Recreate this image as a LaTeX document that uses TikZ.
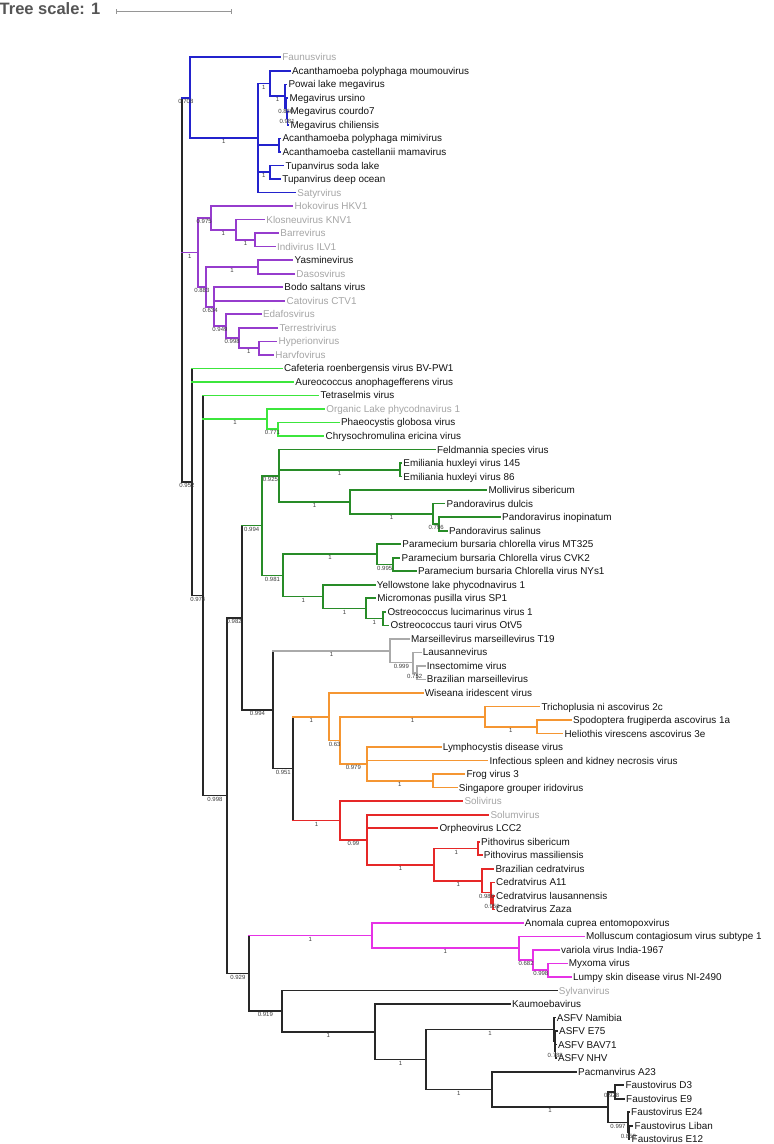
\documentclass[tikz,border=0pt]{standalone}
\usepackage{fontspec}
\setmainfont{Liberation Sans}
\usetikzlibrary{calc}
\definecolor{cblue}{RGB}{35,35,205}
\definecolor{cpurp}{RGB}{150,60,205}
\definecolor{clgrn}{RGB}{60,230,60}
\definecolor{cdgrn}{RGB}{40,140,40}
\definecolor{cgrey}{RGB}{170,170,170}
\definecolor{corng}{RGB}{245,150,50}
\definecolor{cred}{RGB}{230,40,40}
\definecolor{cmag}{RGB}{230,50,230}
\definecolor{cblk}{RGB}{40,40,40}
\definecolor{ctxt}{RGB}{20,20,20}
\definecolor{cgtxt}{RGB}{165,165,165}
\definecolor{cbs}{RGB}{60,60,60}
\definecolor{cscale}{RGB}{85,85,85}
\definecolor{cbar}{RGB}{150,150,150}
\newcommand\tHB[3]{\draw[br,#1] (#2 |- #3) -- (#3);}
\newcommand\tND[5]{\draw[br,#1] (#2 |- #3) -- (#2 |- #4);\foreach \c in {#5} {\draw[br,#1] (#2 |- \c) -- (\c);}}
\newcommand\tLF[4]{\coordinate (t#1) at (#2,{57.3+13.525*(#1-1)});\node[leaf,#3] (n#1) at (t#1) {#4};}
\newcommand\tBS[3]{\node[bsl] (b#1) at ($(#2 |- #1)!0.5!(#1)$) {#3};}
\begin{document}
\begin{tikzpicture}[x=1pt,y=-1pt,
  br/.style={line width=1.65pt,line cap=rect},
  leaf/.style={anchor=base west,inner sep=0pt,xshift=2pt,yshift=-3.5pt,font=\fontsize{9.9}{11}\selectfont,text=ctxt},
  gl/.style={text=cgtxt},
  bsl/.style={inner sep=0pt,yshift=-3.6pt,font=\fontsize{6}{7}\selectfont,text=cbs}]
\useasboundingbox (0,0) rectangle (774,1144);
% scale
\node[anchor=base west,inner sep=0pt,font=\bfseries\fontsize{16.5}{18}\selectfont,text=cscale] (ts) at (-0.5,14) {Tree scale: 1};
\coordinate (sb1) at (116,11.7);
\coordinate (sb2) at (231.7,11.7);
\draw[cbar,line width=1pt] (sb1) -- (sb2);
\draw[cbar,line width=1pt] ($(sb1)+(0,-2.7)$) -- ($(sb1)+(0,2.7)$);
\draw[cbar,line width=1pt] ($(sb2)+(0,-2.7)$) -- ($(sb2)+(0,2.7)$);
% leaves
\tLF{1}{280.2}{gl}{Faunusvirus}
\tLF{2}{289.8}{}{Acanthamoeba polyphaga moumouvirus}
\tLF{3}{286.3}{}{Powai lake megavirus}
\tLF{4}{287.5}{}{Megavirus ursino}
\tLF{5}{288.3}{}{Megavirus courdo7}
\tLF{6}{288.3}{}{Megavirus chiliensis}
\tLF{7}{280.3}{}{Acanthamoeba polyphaga mimivirus}
\tLF{8}{280.3}{}{Acanthamoeba castellanii mamavirus}
\tLF{9}{283.5}{}{Tupanvirus soda lake}
\tLF{10}{280.2}{}{Tupanvirus deep ocean}
\tLF{11}{295.2}{gl}{Satyrvirus}
\tLF{12}{292.5}{gl}{Hokovirus HKV1}
\tLF{13}{264.2}{gl}{Klosneuvirus KNV1}
\tLF{14}{278.2}{gl}{Barrevirus}
\tLF{15}{274.8}{gl}{Indivirus ILV1}
\tLF{16}{292.5}{}{Yasminevirus}
\tLF{17}{294.2}{gl}{Dasosvirus}
\tLF{18}{282.2}{}{Bodo saltans virus}
\tLF{19}{284.5}{gl}{Catovirus CTV1}
\tLF{20}{260.8}{gl}{Edafosvirus}
\tLF{21}{277.5}{gl}{Terrestrivirus}
\tLF{22}{276.5}{gl}{Hyperionvirus}
\tLF{23}{273.2}{gl}{Harvfovirus}
\tLF{24}{281.8}{}{Cafeteria roenbergensis virus BV-PW1}
\tLF{25}{293.2}{}{Aureococcus anophagefferens virus}
\tLF{26}{318.5}{}{Tetraselmis virus}
\tLF{27}{324.2}{gl}{Organic Lake phycodnavirus 1}
\tLF{28}{338.8}{}{Phaeocystis globosa virus}
\tLF{29}{323.5}{}{Chrysochromulina ericina virus}
\tLF{30}{434.8}{}{Feldmannia species virus}
\tLF{31}{401.2}{}{Emiliania huxleyi virus 145}
\tLF{32}{401.2}{}{Emiliania huxleyi virus 86}
\tLF{33}{486.3}{}{Mollivirus sibericum}
\tLF{34}{444.5}{}{Pandoravirus dulcis}
\tLF{35}{500}{}{Pandoravirus inopinatum}
\tLF{36}{446.8}{}{Pandoravirus salinus}
\tLF{37}{400.2}{}{Paramecium bursaria chlorella virus MT325}
\tLF{38}{399.5}{}{Paramecium bursaria Chlorella virus CVK2}
\tLF{39}{415.8}{}{Paramecium bursaria Chlorella virus NYs1}
\tLF{40}{374.7}{}{Yellowstone lake phycodnavirus 1}
\tLF{41}{375.2}{}{Micromonas pusilla virus SP1}
\tLF{42}{385.3}{}{Ostreococcus lucimarinus virus 1}
\tLF{43}{388.5}{}{Ostreococcus tauri virus OtV5}
\tLF{44}{409}{}{Marseillevirus marseillevirus T19}
\tLF{45}{420.7}{}{Lausannevirus}
\tLF{46}{424.7}{}{Insectomime virus}
\tLF{47}{424.7}{}{Brazilian marseillevirus}
\tLF{48}{422.7}{}{Wiseana iridescent virus}
\tLF{49}{539.3}{}{Trichoplusia ni ascovirus 2c}
\tLF{50}{571}{}{Spodoptera frugiperda ascovirus 1a}
\tLF{51}{562.3}{}{Heliothis virescens ascovirus 3e}
\tLF{52}{440.7}{}{Lymphocystis disease virus}
\tLF{53}{487.3}{}{Infectious spleen and kidney necrosis virus}
\tLF{54}{464.3}{}{Frog virus 3}
\tLF{55}{456.7}{}{Singapore grouper iridovirus}
\tLF{56}{462.3}{gl}{Solivirus}
\tLF{57}{488.3}{gl}{Solumvirus}
\tLF{58}{437.3}{}{Orpheovirus LCC2}
\tLF{59}{479}{}{Pithovirus sibericum}
\tLF{60}{481.7}{}{Pithovirus massiliensis}
\tLF{61}{493.3}{}{Brazilian cedratvirus}
\tLF{62}{494}{}{Cedratvirus A11}
\tLF{63}{494}{}{Cedratvirus lausannensis}
\tLF{64}{494}{}{Cedratvirus Zaza}
\tLF{65}{522.7}{}{Anomala cuprea entomopoxvirus}
\tLF{66}{584}{}{Molluscum contagiosum virus subtype 1}
\tLF{67}{559}{}{variola virus India-1967}
\tLF{68}{566.7}{}{Myxoma virus}
\tLF{69}{571}{}{Lumpy skin disease virus NI-2490}
\tLF{70}{556.7}{gl}{Sylvanvirus}
\tLF{71}{510}{}{Kaumoebavirus}
\tLF{72}{554.7}{}{ASFV Namibia}
\tLF{73}{557}{}{ASFV E75}
\tLF{74}{555.8}{}{ASFV BAV71}
\tLF{75}{555.8}{}{ASFV NHV}
\tLF{76}{576}{}{Pacmanvirus A23}
\tLF{77}{623.3}{}{Faustovirus D3}
\tLF{78}{624}{}{Faustovirus E9}
\tLF{79}{629}{}{Faustovirus E24}
\tLF{80}{632.5}{}{Faustovirus Liban}
\tLF{81}{629.5}{}{Faustovirus E12}
% internal nodes
\coordinate (R0) at (181.7,289.9);
\coordinate (Bl) at (190,97.7);
\coordinate (M) at (257.7,138.0);
\coordinate (M1) at (270,83.5);
\coordinate (M2) at (285,96.2);
\coordinate (M3) at (286.6,108.0);
\coordinate (M4) at (287.6,118.2);
\coordinate (Mm) at (279.3,145.2);
\coordinate (Mt) at (270,172.3);
\coordinate (P) at (197.7,252.4);
\coordinate (P1) at (210.7,218.0);
\coordinate (P2) at (236,229.8);
\coordinate (P3) at (255.3,239.9);
\coordinate (P4) at (206,286.8);
\coordinate (P5) at (258.3,267.0);
\coordinate (P6) at (214.3,306.7);
\coordinate (P7) at (225.7,326.1);
\coordinate (P8) at (238.7,338.0);
\coordinate (P9) at (259,348.1);
\coordinate (A) at (192.3,482.0);
\coordinate (C) at (203.3,595.5);
\coordinate (C2) at (266.7,419.1);
\coordinate (C3) at (278.3,429.3);
\coordinate (D) at (226.7,795.6);
\coordinate (E) at (241.7,617.7);
\coordinate (G) at (261.7,525.6);
\coordinate (G1) at (279.3,475.7);
\coordinate (G3) at (400,469.9);
\coordinate (G4) at (350,502.0);
\coordinate (G5) at (433.3,513.8);
\coordinate (G6) at (439,524.0);
\coordinate (G2) at (283.3,575.5);
\coordinate (G7) at (376.7,554.3);
\coordinate (G9) at (392.7,564.5);
\coordinate (G8) at (323.3,596.6);
\coordinate (G10) at (366,608.5);
\coordinate (G11) at (382.7,618.6);
\coordinate (H) at (273.3,709.7);
\coordinate (Mr) at (390,650.8);
\coordinate (Mr1) at (412.7,662.6);
\coordinate (Mr2) at (416.7,672.7);
\coordinate (I) at (293.3,768.6);
\coordinate (O) at (329.3,716.7);
\coordinate (O1) at (340,740.4);
\coordinate (O2) at (485,716.7);
\coordinate (O4) at (536.7,726.8);
\coordinate (O3) at (366.7,764.0);
\coordinate (O5) at (432.7,780.9);
\coordinate (Rd) at (340,820.5);
\coordinate (R1) at (366.7,839.7);
\coordinate (R2) at (434.3,864.7);
\coordinate (R3) at (478.3,848.6);
\coordinate (R4) at (482.3,880.7);
\coordinate (R5) at (491,892.5);
\coordinate (R6) at (493.3,902.7);
\coordinate (F) at (249,973.4);
\coordinate (X) at (371.7,935.6);
\coordinate (X1) at (519,948.3);
\coordinate (X2) at (533.3,960.2);
\coordinate (X3) at (548.3,970.3);
\coordinate (K) at (281.7,1011.2);
\coordinate (K1) at (375,1031.8);
\coordinate (K2) at (426,1059.5);
\coordinate (K3) at (554,1029.5);
\coordinate (K5) at (555,1041.3);
\coordinate (K6) at (555.5,1051.4);
\coordinate (K4) at (491.7,1089.5);
\coordinate (K7) at (608.3,1107.3);
\coordinate (K8) at (615,1092.0);
\coordinate (K9) at (627.7,1122.5);
\coordinate (K10) at (629,1132.6);
% backbone
\tND{cblk}{R0}{Bl}{A}{A}
\tHB{cblue}{R0}{Bl}
\tHB{cpurp}{R0}{P}
\tND{cblk}{A}{t24}{C}{C}
\tHB{clgrn}{A}{t24}
\tHB{clgrn}{A}{t25}
\tND{cblk}{C}{t26}{D}{D}
\tHB{clgrn}{C}{t26}
\tHB{clgrn}{C}{C2}
\tND{cblk}{D}{E}{F}{E,F}
\tND{cblk}{E}{G}{H}{H}
\tHB{cdgrn}{E}{G}
\tND{cblk}{H}{Mr}{I}{I}
\tHB{cgrey}{H}{Mr}
\tND{cblk}{I}{O}{Rd}{}
\tHB{corng}{I}{O}
\tHB{cred}{I}{Rd}
\tND{cblk}{F}{X}{K}{K}
\tHB{cmag}{F}{X}
% blue
\tND{cblue}{Bl}{t1}{M}{t1,M}
\tND{cblue}{M}{M1}{t11}{M1,Mm,Mt,t11}
\tND{cblue}{M1}{t2}{M2}{t2,M2}
\tND{cblue}{M2}{t3}{M3}{t3,M3}
\tND{cblue}{M3}{t4}{M4}{t4,M4}
\tND{cblue}{M4}{t5}{t6}{t5,t6}
\tND{cblue}{Mm}{t7}{t8}{t7,t8}
\tND{cblue}{Mt}{t9}{t10}{t9,t10}
% purple
\tND{cpurp}{P}{P1}{P4}{P1,P4}
\tND{cpurp}{P1}{t12}{P2}{t12,P2}
\tND{cpurp}{P2}{t13}{P3}{t13,P3}
\tND{cpurp}{P3}{t14}{t15}{t14,t15}
\tND{cpurp}{P4}{P5}{P6}{P5,P6}
\tND{cpurp}{P5}{t16}{t17}{t16,t17}
\tND{cpurp}{P6}{t18}{P7}{t18,t19,P7}
\tND{cpurp}{P7}{t20}{P8}{t20,P8}
\tND{cpurp}{P8}{t21}{P9}{t21,P9}
\tND{cpurp}{P9}{t22}{t23}{t22,t23}
% light green
\tND{clgrn}{C2}{t27}{C3}{t27,C3}
\tND{clgrn}{C3}{t28}{t29}{t28,t29}
% dark green
\tND{cdgrn}{G}{G1}{G2}{G1,G2}
\tND{cdgrn}{G1}{t30}{G4}{t30,G3,G4}
\tND{cdgrn}{G3}{t31}{t32}{t31,t32}
\tND{cdgrn}{G4}{t33}{G5}{t33,G5}
\tND{cdgrn}{G5}{t34}{G6}{t34,G6}
\tND{cdgrn}{G6}{t35}{t36}{t35,t36}
\tND{cdgrn}{G2}{G7}{G8}{G7,G8}
\tND{cdgrn}{G7}{t37}{G9}{t37,G9}
\tND{cdgrn}{G9}{t38}{t39}{t38,t39}
\tND{cdgrn}{G8}{t40}{G10}{t40,G10}
\tND{cdgrn}{G10}{t41}{G11}{t41,G11}
\tND{cdgrn}{G11}{t42}{t43}{t42,t43}
% grey
\tND{cgrey}{Mr}{t44}{Mr1}{t44,Mr1}
\tND{cgrey}{Mr1}{t45}{Mr2}{t45,Mr2}
\tND{cgrey}{Mr2}{t46}{t47}{t46,t47}
% orange
\tND{corng}{O}{t48}{O1}{t48,O1}
\tND{corng}{O1}{O2}{O3}{O2,O3}
\tND{corng}{O2}{t49}{O4}{t49,O4}
\tND{corng}{O4}{t50}{t51}{t50,t51}
\tND{corng}{O3}{t52}{O5}{t52,t53,O5}
\tND{corng}{O5}{t54}{t55}{t54,t55}
% red
\tND{cred}{Rd}{t56}{R1}{t56,R1}
\tND{cred}{R1}{t57}{R2}{t57,t58,R2}
\tND{cred}{R2}{R3}{R4}{R3,R4}
\tND{cred}{R3}{t59}{t60}{t59,t60}
\tND{cred}{R4}{t61}{R5}{t61,R5}
\tND{cred}{R5}{t62}{R6}{t62,R6}
\tND{cred}{R6}{t63}{t64}{t63,t64}
% magenta
\tND{cmag}{X}{t65}{X1}{t65,X1}
\tND{cmag}{X1}{t66}{X2}{t66,X2}
\tND{cmag}{X2}{t67}{X3}{t67,X3}
\tND{cmag}{X3}{t68}{t69}{t68,t69}
% black bottom
\tND{cblk}{K}{t70}{K1}{t70,K1}
\tND{cblk}{K1}{t71}{K2}{t71,K2}
\tND{cblk}{K2}{K3}{K4}{K3,K4}
\tND{cblk}{K3}{t72}{K5}{t72,K5}
\tND{cblk}{K5}{t73}{K6}{t73,K6}
\tND{cblk}{K6}{t74}{t75}{t74,t75}
\tND{cblk}{K4}{t76}{K7}{t76,K7}
\tND{cblk}{K7}{K8}{K9}{K8,K9}
\tND{cblk}{K8}{t77}{t78}{t77,t78}
\tND{cblk}{K9}{t79}{K10}{t79,K10}
\tND{cblk}{K10}{t80}{t81}{t80,t81}
% support values
\tBS{Bl}{R0}{0.708}
\tBS{M}{Bl}{1}
\tBS{M1}{M}{1}
\tBS{M2}{M1}{1}
\tBS{M3}{M2}{0.866}
\tBS{M4}{M3}{0.981}
\tBS{Mt}{M}{1}
\tBS{P}{R0}{1}
\tBS{P1}{P}{0.975}
\tBS{P2}{P1}{1}
\tBS{P3}{P2}{1}
\tBS{P4}{P}{0.883}
\tBS{P5}{P4}{1}
\tBS{P6}{P4}{0.634}
\tBS{P7}{P6}{0.949}
\tBS{P8}{P7}{0.998}
\tBS{P9}{P8}{1}
\tBS{A}{R0}{0.952}
\tBS{C}{A}{0.974}
\tBS{C2}{C}{1}
\tBS{C3}{C2}{0.771}
\tBS{D}{C}{0.998}
\tBS{E}{D}{0.982}
\tBS{G}{E}{0.994}
\tBS{G1}{G}{0.925}
\tBS{G3}{G1}{1}
\tBS{G4}{G1}{1}
\tBS{G5}{G4}{1}
\tBS{G6}{G5}{0.796}
\tBS{G2}{G}{0.981}
\tBS{G7}{G2}{1}
\tBS{G9}{G7}{0.995}
\tBS{G8}{G2}{1}
\tBS{G10}{G8}{1}
\tBS{G11}{G10}{1}
\tBS{H}{E}{0.994}
\tBS{Mr}{H}{1}
\tBS{Mr1}{Mr}{0.999}
\tBS{Mr2}{Mr1}{0.752}
\tBS{I}{H}{0.951}
\tBS{O}{I}{1}
\tBS{O1}{O}{0.63}
\tBS{O2}{O1}{1}
\tBS{O4}{O2}{1}
\tBS{O3}{O1}{0.979}
\tBS{O5}{O3}{1}
\tBS{Rd}{I}{1}
\tBS{R1}{Rd}{0.99}
\tBS{R2}{R1}{1}
\tBS{R3}{R2}{1}
\tBS{R4}{R2}{1}
\tBS{R5}{R4}{0.986}
\tBS{R6}{R5}{0.956}
\tBS{F}{D}{0.929}
\tBS{X}{F}{1}
\tBS{X1}{X}{1}
\tBS{X2}{X1}{0.682}
\tBS{X3}{X2}{0.998}
\tBS{K}{F}{0.919}
\tBS{K1}{K}{1}
\tBS{K2}{K1}{1}
\tBS{K3}{K2}{1}
\tBS{K6}{K5}{0.788}
\tBS{K4}{K2}{1}
\tBS{K7}{K4}{1}
\tBS{K8}{K7}{0.928}
\tBS{K9}{K7}{0.997}
\tBS{K10}{K9}{0.858}
\end{tikzpicture}
\end{document}
